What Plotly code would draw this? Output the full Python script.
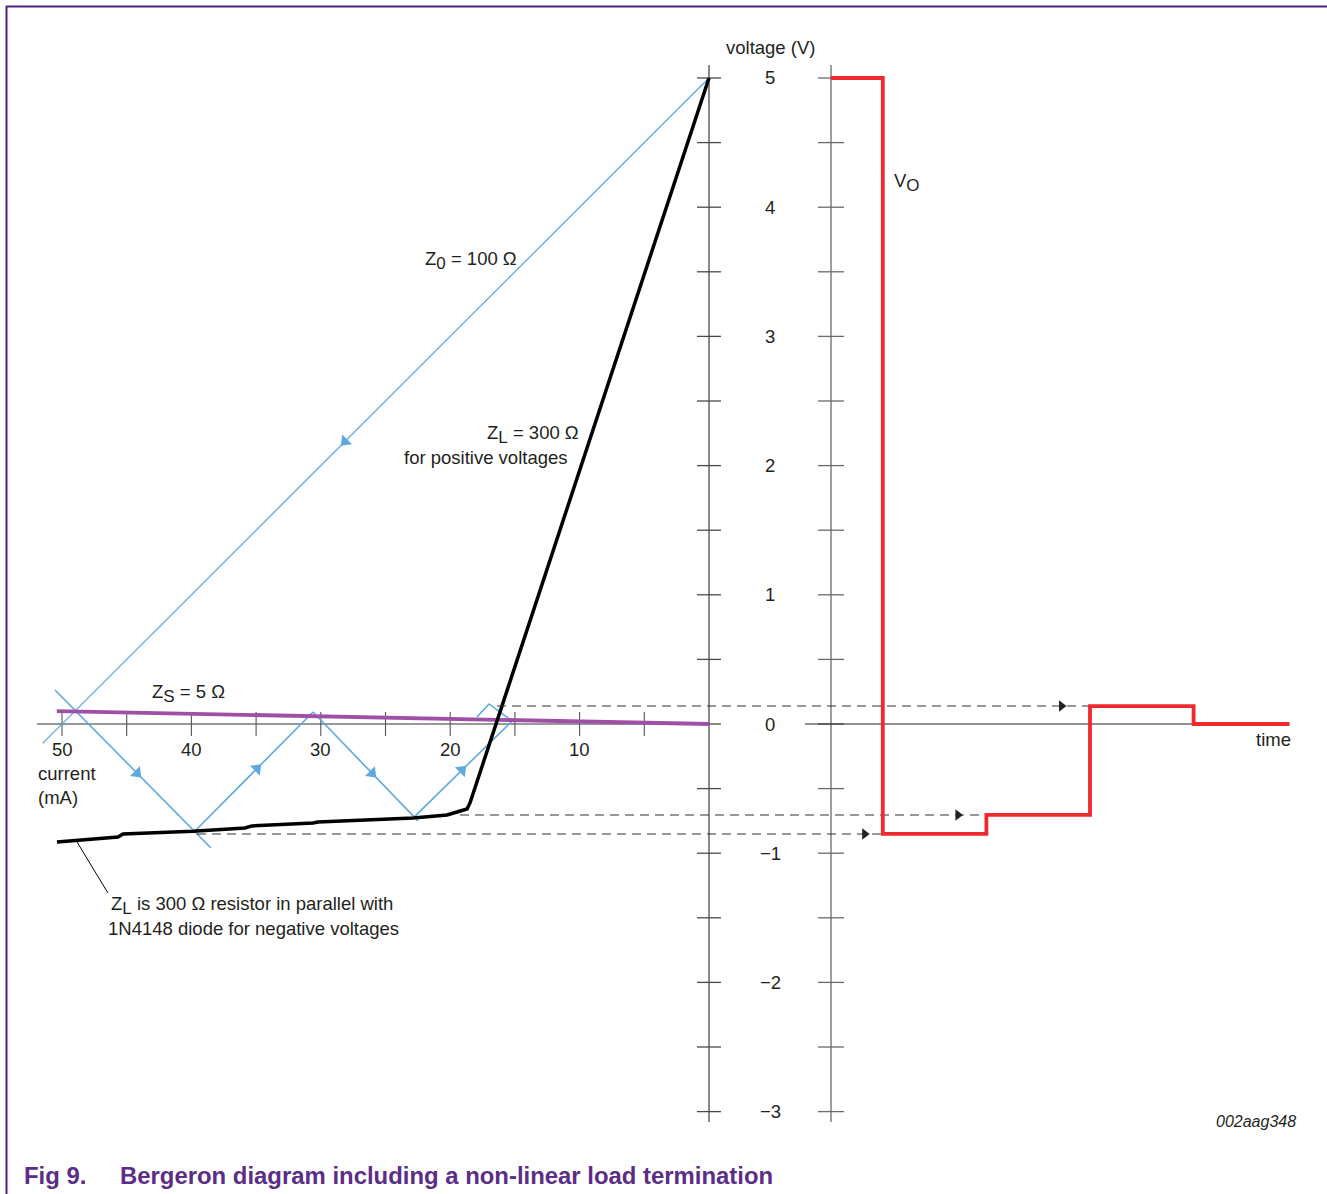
import plotly.graph_objects as go

W, H = 1327, 1194

# ---------------- data (current in mA, voltage in V, time in arbitrary units) ----------------
Z0_LINE_I = [0.0, 51.5]
Z0_LINE_V = [5.0, -0.15]
Z0_ARROW_I = 28.13

ZS_LINE_I = [50.4, 0.0]
ZS_LINE_V = [0.10, 0.0]

LOAD_I = [50.39, 45.67, 45.29, 43.20, 42.81, 39.88, 35.86, 35.32, 30.60, 30.22,
          22.87, 20.25, 19.47, 18.70, 18.47, 0.0]
LOAD_V = [-0.913, -0.875, -0.851, -0.844, -0.836, -0.830, -0.805, -0.789, -0.766, -0.759,
          -0.728, -0.704, -0.681, -0.658, -0.611, 5.0]

BOUNCE_I = [[50.54, 38.49], [39.72, 30.60], [30.60, 22.49], [22.87, 15.22], [17.93, 17.00, 15.22]]
BOUNCE_V = [[0.263, -0.960], [-0.828, 0.093], [0.093, -0.750], [-0.728, 0.023], [0.054, 0.155, 0.023]]
BOUNCE_ARROW_I = [44.2, 34.93, 26.04, 19.09]
BOUNCE_ARROW_ANGLE = [135, 45, 135, 45]

LEADER_I = [48.84, 46.45]
LEADER_V = [-0.913, -1.308]

VO_T = [0, 1, 1, 3, 3, 5, 5, 7, 7, 8.85]
VO_V = [5.0, 5.0, -0.851, -0.851, -0.704, -0.704, 0.139, 0.139, 0.0, 0.0]

GUIDE_I = [16.38, 19.24, 39.57]
GUIDE_V = [0.139, -0.704, -0.851]
GUIDE_T_END = [5.0, 3.0, 1.0]
GUIDE_T_ARROW = [4.45, 2.45, 0.65]

V_TICKS = [-3.0, -2.5, -2.0, -1.5, -1.0, -0.5, 0.0, 0.5, 1.0, 1.5, 2.0, 2.5, 3.0, 3.5, 4.0, 4.5, 5.0]
V_LABEL_VALS = [5, 4, 3, 2, 1, 0, -1, -2, -3]
V_LABELS = ["5", "4", "3", "2", "1", "0", "\u22121", "\u22122", "\u22123"]
I_TICKS = [5, 10, 15, 20, 25, 30, 35, 40, 45, 50]
I_LABEL_VALS = [50, 40, 30, 20, 10]

# ---------------- scales (pixel layout) ----------------
PX_PER_MA = 12.94
PX_PER_V = 129.2
PX_PER_T = 51.8
ORIGIN_X = 709     # 0 mA
ORIGIN_Y = 724     # 0 V
T0_X = 831         # t = 0

X_RANGE = [ORIGIN_X / PX_PER_MA, (ORIGIN_X - W) / PX_PER_MA]
T_RANGE = [-T0_X / PX_PER_T, (W - T0_X) / PX_PER_T]
Y_RANGE = [(ORIGIN_Y - H) / PX_PER_V, ORIGIN_Y / PX_PER_V]


def cur_to_time(i):
    f = (i - X_RANGE[0]) / (X_RANGE[1] - X_RANGE[0])
    return T_RANGE[0] + f * (T_RANGE[1] - T_RANGE[0])


def interp(xs, ys, x):
    x0, x1 = xs[0], xs[1]
    return ys[0] + (x - x0) / (x1 - x0) * (ys[1] - ys[0])


def px(x):
    return x / W


def py(y):
    return 1 - y / H


BLUE = "#5DA9E0"
TXT = "#231F20"
AXC = "#4a4a4a"
FONT = "Liberation Sans, Arial, sans-serif"
FS = 18.5


def sub(s):
    return "<sub><span style='font-size:17px'>" + s + "</span></sub>"


fig = go.Figure()


def add(x, y, color, width, xaxis="x", dash=None):
    fig.add_trace(go.Scatter(x=x, y=y, mode="lines", xaxis=xaxis, yaxis="y",
                             line=dict(color=color, width=width, dash=dash),
                             hoverinfo="skip", showlegend=False))


# ---- axes drawn with the scales ----
V_AX_LO = (ORIGIN_Y - 1122) / PX_PER_V
V_AX_HI = (ORIGIN_Y - 65) / PX_PER_V
tick_h_ma = 12 / PX_PER_MA
tick_h_t = 13 / PX_PER_T
tick_v = 12 / PX_PER_V

# left voltage axis
add([0, 0], [V_AX_LO, V_AX_HI], AXC, 1.3)
tx, ty = [], []
for v in V_TICKS:
    tx += [tick_h_ma, -tick_h_ma, None]
    ty += [v, v, None]
add(tx, ty, AXC, 1.3)

# right voltage axis (time diagram)
add([0, 0], [V_AX_LO, V_AX_HI], "#6a6a6a", 1.3, xaxis="x2")
tx, ty = [], []
for v in V_TICKS:
    tx += [-tick_h_t, tick_h_t, None]
    ty += [v, v, None]
add(tx, ty, "#6a6a6a", 1.3, xaxis="x2")

# current axis
add([(ORIGIN_X - 37) / PX_PER_MA, 0], [0, 0], "#333333", 1.1)
tx, ty = [], []
for i in I_TICKS:
    tx += [i, i, None]
    ty += [tick_v, -tick_v, None]
add(tx, ty, "#555555", 1.1)

# time axis
add([(805 - T0_X) / PX_PER_T, VO_T[-1]], [0, 0], "#222222", 1.1, xaxis="x2")

# ---- dashed guides ----
for i0, v, te, ta in zip(GUIDE_I, GUIDE_V, GUIDE_T_END, GUIDE_T_ARROW):
    add([cur_to_time(i0), te], [v, v], "#333333", 1.1, xaxis="x2", dash="9px,6px")
fig.add_trace(go.Scatter(x=GUIDE_T_ARROW, y=GUIDE_V, mode="markers", xaxis="x2", yaxis="y",
                         marker=dict(symbol="triangle-right", size=10, color="#222222",
                                     line=dict(width=0)),
                         hoverinfo="skip", showlegend=False))

# ---- Z0 line ----
add(Z0_LINE_I, Z0_LINE_V, BLUE, 1.3)
fig.add_trace(go.Scatter(x=[Z0_ARROW_I], y=[interp(Z0_LINE_I, Z0_LINE_V, Z0_ARROW_I)],
                         mode="markers", marker=dict(symbol="triangle-up", size=12, angle=225,
                                                     color=BLUE, line=dict(width=0)),
                         hoverinfo="skip", showlegend=False))

# ---- bounce lines ----
for bi, bv in zip(BOUNCE_I, BOUNCE_V):
    add(bi, bv, BLUE, 1.6)
ax_v = [interp(BOUNCE_I[k], BOUNCE_V[k], BOUNCE_ARROW_I[k]) for k in range(len(BOUNCE_ARROW_I))]
fig.add_trace(go.Scatter(x=BOUNCE_ARROW_I, y=ax_v, mode="markers",
                         marker=dict(symbol="triangle-up", size=12, angle=BOUNCE_ARROW_ANGLE,
                                     color=BLUE, line=dict(width=0)),
                         hoverinfo="skip", showlegend=False))

# ---- Zs source line ----
add(ZS_LINE_I, ZS_LINE_V, "#A04FA6", 3.8)

# ---- load line ----
add(LOAD_I, LOAD_V, "#000000", 3.5)
add(LEADER_I, LEADER_V, "#000000", 1.0)

# ---- output waveform ----
add(VO_T, VO_V, "#EE2A2E", 3.8, xaxis="x2")

# ---------------- text ----------------
ann = []


def text(t, x, y, anchor="center", size=FS, color=TXT, bold=False, italic=False):
    f = dict(family=FONT, size=size, color=color)
    if bold:
        f["weight"] = "bold"
    if italic:
        f["style"] = "italic"
    ann.append(dict(text=t, x=px(x), y=py(y), xref="paper", yref="paper", showarrow=False,
                    xanchor=anchor, yanchor="middle", font=f))


text("voltage (V)", 770, 48)
for v, lab in zip(V_LABEL_VALS, V_LABELS):
    text(lab, 770, ORIGIN_Y - v * PX_PER_V)
for i in I_LABEL_VALS:
    text(str(i), ORIGIN_X - i * PX_PER_MA, 749)
text("current", 36, 773, anchor="left")
text("(mA)", 36, 797, anchor="left")
text("time", 1273, 739)
text("Z" + sub("0") + " = 100 \u03a9", 423, 260, anchor="left")
text("Z" + sub("L") + " = 300 \u03a9", 581, 435, anchor="right")
text("for positive voltages", 570, 458, anchor="right")
text("Z" + sub("S") + " = 5 \u03a9", 150, 693, anchor="left")
text("V" + sub("O"), 892, 183, anchor="left")
text("Z" + sub("L") + " is 300 \u03a9 resistor in parallel with", 109, 905, anchor="left")
text("1N4148 diode for negative voltages", 106, 928, anchor="left")
text("002aag348", 1298, 1121, anchor="right", size=16, italic=True)
text("Fig 9.", 22, 1175, anchor="left", size=23.9, color="#5B2D86", bold=True)
text("Bergeron diagram including a non-linear load termination", 118, 1175, anchor="left",
     size=23.9, color="#5B2D86", bold=True)

PURPLE = "#4E2382"
shapes = [
    dict(type="line", xref="paper", yref="paper", x0=px(6), x1=1.0, y0=py(6.5), y1=py(6.5),
         line=dict(color=PURPLE, width=2)),
    dict(type="line", xref="paper", yref="paper", x0=px(6.5), x1=px(6.5), y0=py(6), y1=0,
         line=dict(color=PURPLE, width=2)),
]

fig.update_layout(
    width=W, height=H,
    margin=dict(l=0, r=0, t=0, b=0),
    paper_bgcolor="white", plot_bgcolor="white",
    xaxis=dict(range=X_RANGE, domain=[0, 1], visible=False, fixedrange=True),
    xaxis2=dict(range=T_RANGE, domain=[0, 1], overlaying="x", visible=False, fixedrange=True),
    yaxis=dict(range=Y_RANGE, domain=[0, 1], visible=False, fixedrange=True),
    annotations=ann, shapes=shapes, showlegend=False,
)

fig.write_html("out.html", config={"displayModeBar": False},
               post_script="document.body.style.margin='0';document.body.style.overflow='hidden';")
